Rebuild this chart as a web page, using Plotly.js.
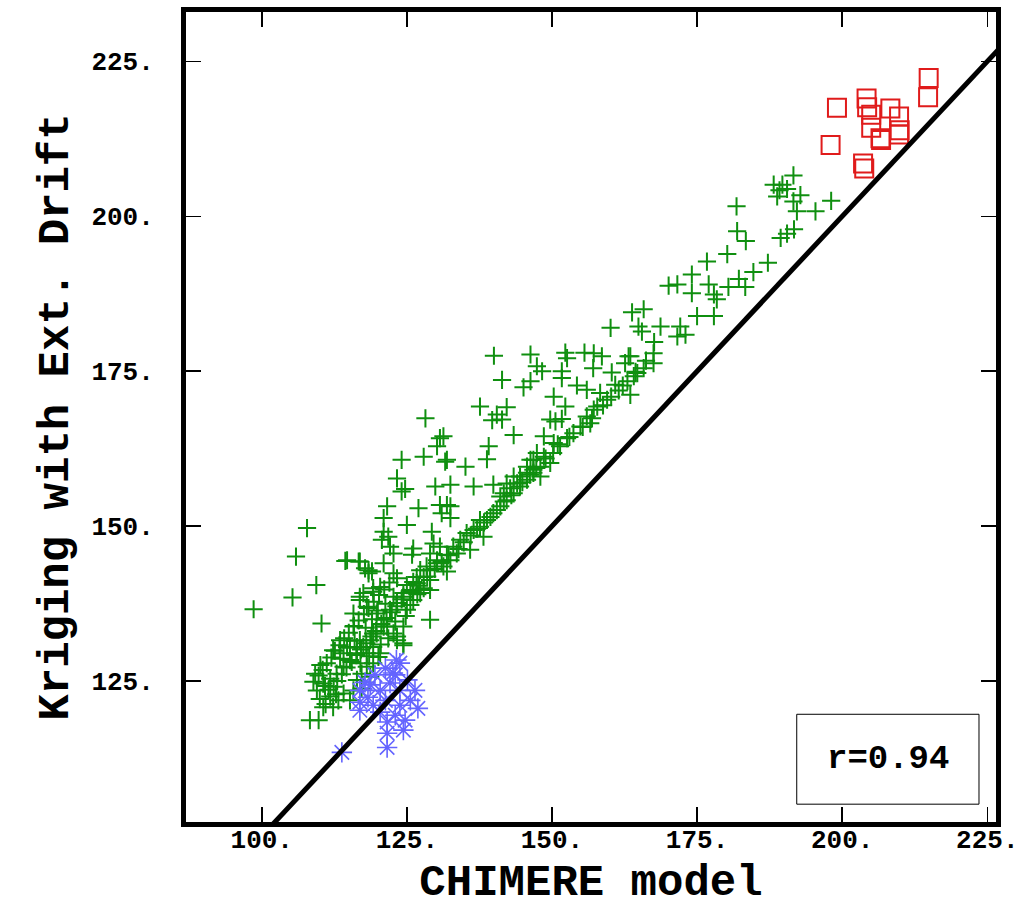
<!DOCTYPE html>
<html>
<head>
<meta charset="utf-8">
<script src="https://cdn.plot.ly/plotly-3.0.1.min.js"></script>
<style>html,body{margin:0;padding:0;background:#fff;}#chart{width:1019px;height:908px;}</style>
</head>
<body>
<div id="chart"></div>
<script>
// Red squares (high values)
const redX = [214.9,214.8,199.1,204.2,204.3,205.0,208.3,209.8,205.0,206.6,206.7,209.9,209.8,198.0,203.6,203.8];
const redY = [222.3,219.2,217.5,219.0,217.6,216.4,217.4,216.1,214.3,212.6,212.3,213.9,213.2,211.5,208.5,207.7];

// Blue asterisks (low values)
const blueX = [123.8,122.6,121.3,119.5,117.8,116.9,118.3,120.4,122.1,123.8,125.1,126.4,125.6,126.9,123.8,123.0,121.6,121.6,121.6,124.4,120.4,119.2,116.9,113.8,123.2,121.3,124.7,123.0,118.7,116.9];
const blueY = [127.9,126.3,127.1,126.0,124.8,123.5,122.4,123.5,124.7,123.5,125.2,123.5,121.9,120.6,121.1,119.5,118.4,116.6,114.3,117.1,120.0,121.1,120.3,113.5,128.4,121.9,118.7,126.0,124.4,121.6];

// Green crosses (medium values)
const greenX = [
191.6,188.2,189.7,189.2,190.5,188.8,192.8,191.6,192.2,195.4,198.1,181.8,181.9,183.4,189.4,190.5,191.7,180.2,176.7,187.2,
184.7,174.1,182.2,183.3,180.4,177.0,174.1,177.9,178.4,170.1,171.6,163.8,165.8,175.0,177.9,160.1,164.9,165.5,168.7,172.1,
171.6,173.0,167.6,167.5,163.5,162.6,167.5,165.8,160.3,164.7,158.6,
140.0,146.3,152.3,152.6,155.6,157.2,163.2,147.4,148.3,151.7,151.7,157.1,164.1,141.4,146.3,145.1,154.3,156.0,158.3,159.5,
160.9,162.2,163.5,150.3,137.6,142.2,140.5,139.7,141.4,152.3,149.7,151.7,150.6,157.8,156.0,157.2,156.6,154.9,153.7,143.4,
148.6,150.3,151.4,152.6,139.1,138.8,131.3,131.9,135.1,147.4,148.6,149.7,146.3,148.0,146.8,145.7,144.5,148.0,144.0,142.8,
141.7,139.9,136.5,132.5,141.1,
128.2,130.7,130.2,124.1,127.9,131.6,123.3,124.1,124.7,129.9,121.6,127.0,130.7,131.9,132.5,131.0,132.5,125.0,129.3,121.0,
121.0,121.8,120.7,122.1,122.7,126.1,125.9,114.7,116.9,118.4,119.0,121.0,122.7,123.3,120.4,119.2,117.5,116.9,129.6,130.7,
129.0,131.9,130.2,128.4,127.3,126.7,129.0,126.1,125.0,131.9,129.0,124.4,122.7,135.9,138.2,136.5,137.6,135.3,134.2,133.0,
133.6,132.5,131.3,138.8,139.9,141.1,142.2,143.4,144.5,145.7,146.8,145.7,146.8,143.4,142.2,140.5,139.4,137.6,
107.8,105.9,109.4,105.3,98.6,110.3,114.4,116.7,117.8,118.4,119.2,129.0,123.3,124.4,122.7,121.6,119.8,118.1,116.9,115.8,
115.8,113.5,112.3,114.7,116.9,119.2,121.0,122.1,123.3,124.4,125.6,126.7,127.9,129.0,130.2,119.2,120.4,118.1,116.4,114.1,
125.0,126.1,127.3,124.4,123.3,
124.4,110.1,109.2,108.9,109.5,110.6,111.8,112.9,114.1,115.2,116.4,117.5,118.7,119.8,121.0,111.8,113.2,114.1,115.8,116.4,
117.2,118.1,119.2,120.1,108.3,109.8,110.6,112.3,115.2,118.7,117.2,
110.5,111.2,112.0,112.6,113.4,114.2,115.0,115.9,116.7,117.6,118.4,119.3,120.2,121.1,122.0,113.0,113.8,114.6,115.5,116.3,
117.1,118.0,118.9,119.7,120.6,121.5,122.4,123.2,124.1,110.9,111.5,112.4,113.5,115.2,116.0,117.9,119.0,120.0,121.3,109.8,
110.0,111.0,112.8,117.0,118.5,120.5,121.8,123.0,124.8,125.6,126.8,127.9,
133.9,134.8,136.0,137.1,138.3,141.7,143.0,144.9,146.2,147.3,148.9,150.2,151.0,153.0,155.3,156.9,158.8,160.2,161.5,163.0,
164.4,166.2,128.5,129.8,131.0,132.2,126.0,127.1
];
const greenY = [
206.6,205.1,205.1,204.2,204.4,203.2,203.4,202.4,200.8,200.8,202.5,201.6,197.6,196.0,196.5,197.2,197.9,193.9,192.7,192.5,
191.0,190.6,189.9,188.6,188.6,189.0,187.6,187.4,186.6,188.8,189.0,184.5,185.0,183.9,183.9,182.0,182.2,181.4,182.2,182.2,
180.6,180.9,179.7,177.9,177.4,176.3,176.3,175.5,174.8,174.7,177.4,
177.5,177.7,178.0,177.1,178.0,177.9,177.4,175.8,175.0,175.0,173.9,175.5,174.2,173.6,173.4,172.4,172.7,172.0,171.5,170.4,
172.8,172.7,171.2,170.9,169.3,169.2,168.0,167.1,167.2,169.3,167.2,167.3,166.9,169.3,167.7,168.8,166.6,166.1,165.0,164.7,
164.5,163.4,162.9,164.2,162.9,160.8,164.5,160.7,159.6,161.8,161.2,160.2,160.7,159.6,159.1,158.6,158.0,158.0,156.9,156.1,
155.3,156.7,156.4,156.7,154.8,
167.4,164.2,162.9,160.7,161.2,160.4,157.7,155.6,156.0,156.4,153.2,152.9,153.4,153.4,153.2,152.1,151.3,150.2,149.1,151.3,
149.1,148.3,147.8,146.7,145.6,146.4,145.4,144.5,144.3,142.9,142.7,144.0,142.4,141.6,140.2,139.4,139.2,138.6,147.2,146.7,
145.6,145.4,144.5,143.5,142.9,141.8,141.3,141.0,140.5,142.7,139.7,139.2,138.6,146.2,148.3,149.4,149.9,148.9,147.8,146.7,
145.6,144.5,143.5,151.0,152.1,153.2,154.2,155.3,156.4,157.5,158.6,159.6,160.7,158.0,156.9,152.6,151.5,151.0,
149.7,145.1,140.5,138.5,136.6,134.3,144.4,144.3,143.2,142.4,140.0,134.9,131.6,131.1,132.7,133.8,135.9,137.0,138.1,135.9,
133.8,131.6,130.0,130.5,131.6,132.7,134.9,136.5,137.6,138.6,139.7,140.8,141.8,142.9,144.0,130.5,129.5,129.5,130.5,129.5,
136.5,138.1,139.2,133.8,132.2,
130.8,127.6,126.2,124.9,123.5,124.6,125.4,126.2,127.3,128.4,129.5,130.5,131.6,132.7,133.8,122.5,121.9,123.0,123.5,125.2,
126.2,127.3,127.9,128.9,118.7,118.7,120.8,120.8,121.9,125.7,123.8,
126.8,127.9,128.8,129.9,130.8,131.9,132.8,133.9,134.8,135.8,136.8,137.8,138.9,139.8,140.9,125.0,126.1,127.2,128.1,129.2,
130.1,131.1,132.2,133.1,134.2,135.2,136.1,137.1,138.2,124.2,123.6,124.1,128.6,130.4,131.5,133.6,135.0,136.4,137.5,125.9,
122.1,121.3,122.9,127.9,129.0,130.9,131.9,134.6,135.5,137.3,139.0,140.0,
146.3,147.4,148.5,149.6,150.6,154.0,155.0,157.1,158.3,159.4,160.9,161.8,163.2,164.4,166.0,167.4,169.5,170.9,171.9,173.4,
174.9,176.7,141.9,143.1,144.2,145.3,139.5,140.4
];

// 1:1 reference line (y = x)
const refLine = [80, 240];

const tickVals = [100, 125, 150, 175, 200, 225];
const tickText = ['100.', '125.', '150.', '175.', '200.', '225.'];

const FONT = 'Liberation Mono, Courier New, monospace';

const traces = [
  {x: greenX, y: greenY, type: 'scatter', mode: 'markers', hoverinfo: 'skip',
   marker: {symbol: 'cross-thin-open', size: 13, color: '#0f8f0f', line: {color: '#0f8f0f', width: 2}}},
  {x: blueX, y: blueY, type: 'scatter', mode: 'markers', hoverinfo: 'skip',
   marker: {symbol: 'asterisk-open', size: 17, color: '#6464ff', line: {color: '#6464ff', width: 1.6}}},
  {x: redX, y: redY, type: 'scatter', mode: 'markers', hoverinfo: 'skip',
   marker: {symbol: 'square-open', size: 18, color: '#e01b1b', line: {color: '#e01b1b', width: 2}}},
  {x: refLine, y: refLine, type: 'scatter', mode: 'lines', hoverinfo: 'skip',
   line: {color: '#000', width: 5}}
];

const axisCommon = {
  showgrid: false, zeroline: false, showline: true, linecolor: '#000', linewidth: 5,
  mirror: 'ticks', ticks: 'inside', ticklen: 15, tickwidth: 1.5, tickcolor: '#000',
  tickmode: 'array', tickvals: tickVals, ticktext: tickText,
  tickfont: {family: FONT, size: 26, color: '#000', weight: 'bold'}
};

const layout = {
  width: 1019, height: 908,
  margin: {l: 186, r: 23, t: 12, b: 86},
  paper_bgcolor: '#fff', plot_bgcolor: '#fff',
  showlegend: false,
  xaxis: Object.assign({}, axisCommon, {
    range: [86.95, 226.5],
    ticklabelstandoff: -10,
    title: {text: 'CHIMERE model', font: {family: FONT, size: 44, color: '#000', weight: 'bold'}, standoff: 18}
  }),
  yaxis: Object.assign({}, axisCommon, {
    range: [102.27, 232.96],
    ticklabelstandoff: 22,
    title: {text: 'Kriging with Ext. Drift', font: {family: FONT, size: 44, color: '#000', weight: 'bold'}, standoff: 10}
  }),
  shapes: [
    {type: 'rect', xref: 'paper', yref: 'paper', x0: 0.754, x1: 0.979, y0: 0.022, y1: 0.133,
     line: {color: '#000', width: 1}, fillcolor: '#fff', layer: 'above'}
  ],
  annotations: [
    {xref: 'paper', yref: 'paper', x: 0.8667, y: 0.0778, xanchor: 'center', yanchor: 'middle',
     text: 'r=0.94', showarrow: false, font: {family: FONT, size: 34, color: '#000', weight: 'bold'}}
  ]
};

Plotly.newPlot('chart', traces, layout, {displayModeBar: false, staticPlot: true});
</script>
</body>
</html>
